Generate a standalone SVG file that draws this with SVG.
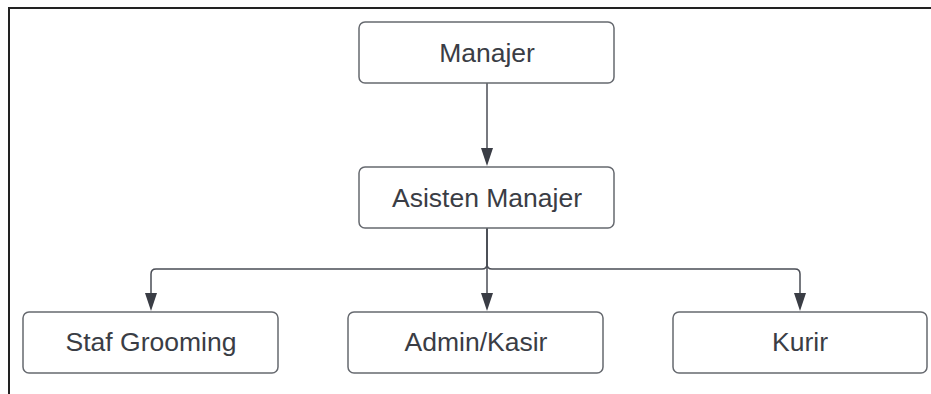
<svg xmlns="http://www.w3.org/2000/svg" width="931" height="394" viewBox="0 0 931 394">
  <style>
    .box { fill: #ffffff; stroke: #66696f; stroke-width: 1.5; }
    .label { font-family: "Liberation Sans", Arial, sans-serif; font-size: 26.5px; fill: #3a3d45; text-anchor: middle; }
    .edge { fill: none; stroke: #4a4d55; stroke-width: 1.5; }
    .head { fill: #3a3d45; }
    .frame { fill: none; stroke: #222222; stroke-width: 2; }
  </style>
  <rect width="931" height="394" fill="#ffffff"/>
  <!-- outer frame: top and left edges only -->
  <path class="frame" d="M9,394 V8 H931"/>

  <g id="connectors">
    <!-- Manajer to Asisten Manajer -->
    <line class="edge" x1="487" y1="83" x2="487" y2="149"/>
    <path class="head" d="M481,148 L493,148 L487,166 Z"/>
    <!-- Asisten Manajer to Admin/Kasir -->
    <line class="edge" x1="487" y1="228" x2="487" y2="294"/>
    <path class="head" d="M481,293 L493,293 L487,311 Z"/>
    <!-- Asisten Manajer to Staf Grooming -->
    <path class="edge" d="M487,228 V264 Q487,269 482,269 H156 Q151,269 151,274 V294"/>
    <path class="head" d="M145,293 L157,293 L151,311 Z"/>
    <!-- Asisten Manajer to Kurir -->
    <path class="edge" d="M487,228 V264 Q487,269 492,269 H795 Q800,269 800,274 V294"/>
    <path class="head" d="M794,293 L806,293 L800,311 Z"/>
  </g>

  <g id="manajer">
    <rect class="box" x="359" y="22" width="255" height="61" rx="6"/>
    <text class="label" x="487" y="61.5">Manajer</text>
  </g>
  <g id="asisten-manajer">
    <rect class="box" x="359" y="167" width="255" height="61" rx="6"/>
    <text class="label" x="487" y="206.5">Asisten Manajer</text>
  </g>
  <g id="staf-grooming">
    <rect class="box" x="23" y="312" width="255" height="61" rx="6"/>
    <text class="label" x="151" y="350.5">Staf Grooming</text>
  </g>
  <g id="admin-kasir">
    <rect class="box" x="348" y="312" width="255" height="61" rx="6"/>
    <text class="label" x="476" y="350.5">Admin/Kasir</text>
  </g>
  <g id="kurir">
    <rect class="box" x="673" y="312" width="254" height="61" rx="6"/>
    <text class="label" x="800" y="350.5">Kurir</text>
  </g>
</svg>
